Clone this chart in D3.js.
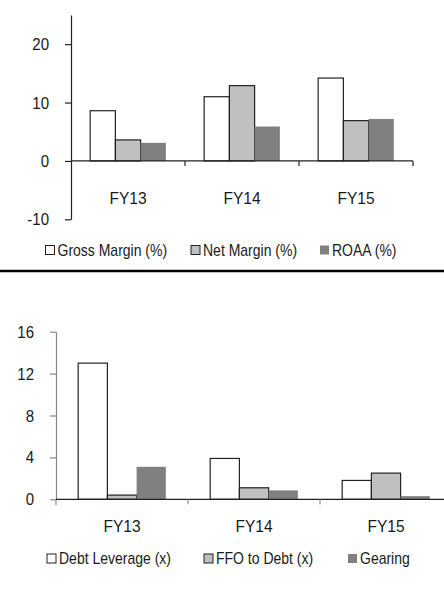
<!DOCTYPE html>
<html lang="en">
<head>
<meta charset="UTF-8">
<title></title>
<style>
  body { margin: 0; background: #fff; }
  svg text { font-family: "Liberation Sans", Arial, sans-serif; fill: #1a1a1a; }
</style>
</head>
<body>
<script src="https://d3js.org/d3.v7.min.js"></script>
<script>
    // data
    var categories = ['FY13', 'FY14', 'FY15'];

    var profitSeries = ['Gross Margin (%)', 'Net Margin (%)', 'ROAA (%)'];
    var grossMargin = [8.6, 11.0, 14.2];
    var netMargin = [3.6, 12.9, 6.9];
    var roaa = [3.1, 5.9, 7.2];
    var profitTicks = [-10, 0, 10, 20];

    var debtSeries = ['Debt Leverage (x)', 'FFO to Debt (x)', 'Gearing'];
    var debtLeverage = [13.0, 3.9, 1.8];
    var ffoToDebt = [0.4, 1.1, 2.5];
    var gearing = [3.1, 0.85, 0.3];
    var debtTicks = [0, 4, 8, 12, 16];

    var width = 444, height = 605;
    var fills = ['#ffffff', '#c0c0c0', '#808080'];
    var strokes = ['#222', '#222', 'none'];

    var svg = d3.select('body').append('svg')
        .attr('width', width)
        .attr('height', height);

    svg.append('rect').attr('width', width).attr('height', height).attr('fill', '#fff');

    function drawChart(opt) {
        var x0 = d3.scaleBand().domain(categories).range([opt.left, opt.right]);
        var bw = x0.bandwidth();
        var x1 = d3.scaleBand().domain(opt.series).range([bw * 0.168, bw * 0.832]);
        var y = d3.scaleLinear().domain(opt.domain).range([opt.bottom, opt.top]);

        var g = svg.append('g');

        // bars
        var rows = categories.map(function(c, i) {
            return opt.values.map(function(v, k) { return {cat: c, s: opt.series[k], k: k, v: v[i]}; });
        });
        g.selectAll('g.cat').data(rows).enter().append('g')
            .attr('class', 'cat')
            .attr('transform', function(d) { return 'translate(' + x0(d[0].cat) + ',0)'; })
            .selectAll('rect').data(function(d) { return d; }).enter().append('rect')
            .attr('x', function(d) { return x1(d.s); })
            .attr('width', x1.bandwidth())
            .attr('y', function(d) { return y(Math.max(0, d.v)); })
            .attr('height', function(d) { return Math.abs(y(d.v) - y(0)); })
            .attr('fill', function(d) { return fills[d.k]; })
            .attr('stroke', function(d) { return strokes[d.k]; })
            .attr('stroke-width', 1.2);

        // y axis
        var yAxis = d3.axisLeft(y).tickValues(opt.ticks)
            .tickFormat(function(d) { return String(d); })
            .tickSize(6).tickSizeOuter(0).tickPadding(16);
        var ya = g.append('g')
            .attr('transform', 'translate(' + opt.left + ',0)')
            .call(yAxis);
        ya.selectAll('path, line').attr('stroke', opt.yColor).attr('stroke-width', 1.2);
        ya.selectAll('text')
            .attr('font-size', 15).attr('font-family', null).attr('fill', '#1a1a1a')
            .attr('transform', 'scale(1,1.16)');
        if (opt.yExtend) {
            ya.append('line').attr('x1', 0).attr('x2', 0)
                .attr('y1', y(0)).attr('y2', y(0) + opt.yExtend)
                .attr('stroke', opt.yColor).attr('stroke-width', 1.2);
        }

        // x axis
        var xa = g.append('g').attr('transform', 'translate(0,' + y(0) + ')');
        xa.append('line')
            .attr('x1', opt.left).attr('x2', opt.right)
            .attr('stroke', '#222').attr('stroke-width', 1.2);
        xa.selectAll('line.tick').data(categories).enter().append('line')
            .attr('class', 'tick')
            .attr('x1', function(c) { return x0(c) + bw; })
            .attr('x2', function(c) { return x0(c) + bw; })
            .attr('y1', 0).attr('y2', 5)
            .attr('stroke', opt.xTickColor).attr('stroke-width', 1.2);
        xa.selectAll('text').data(categories).enter().append('text')
            .attr('transform', function(c) { return 'translate(' + (x0(c) + bw / 2) + ',' + opt.labelOffset + ') scale(0.97,1.04)'; })
            .attr('text-anchor', 'middle')
            .attr('font-size', 16)
            .text(function(c) { return c; });

        // legend
        var lg = g.selectAll('g.legend').data(opt.series).enter().append('g')
            .attr('class', 'legend')
            .attr('transform', function(d, k) { return 'translate(' + opt.legendX[k] + ',' + opt.legendY + ')'; });
        lg.append('rect')
            .attr('x', 0).attr('y', -4.5)
            .attr('width', 9).attr('height', 9)
            .attr('fill', function(d, k) { return fills[k]; })
            .attr('stroke', function(d, k) { return strokes[k]; })
            .attr('stroke-width', 1);
        lg.append('text')
            .attr('transform', 'translate(12,0) scale(1,1.14)')
            .attr('dy', '0.36em')
            .attr('font-size', 14)
            .text(function(d) { return d; });
    }

    drawChart({
        series: profitSeries,
        values: [grossMargin, netMargin, roaa],
        domain: [-10, 25],
        ticks: profitTicks,
        left: 71, right: 413, top: 15, bottom: 219.3,
        yColor: '#222', xTickColor: '#222',
        labelOffset: 43,
        legendX: [45.5, 191, 320],
        legendY: 250
    });

    // separator
    svg.append('line')
        .attr('x1', 0).attr('x2', width)
        .attr('y1', 271).attr('y2', 271)
        .attr('stroke', '#000').attr('stroke-width', 2.6);

    drawChart({
        series: debtSeries,
        values: [debtLeverage, ffoToDebt, gearing],
        domain: [0, 16],
        ticks: debtTicks,
        left: 56, right: 452, top: 331.7, bottom: 499.3,
        yColor: '#888', xTickColor: '#888', yExtend: 6,
        labelOffset: 32.5,
        legendX: [47, 204, 348],
        legendY: 558.5
    });
</script>
</body>
</html>
